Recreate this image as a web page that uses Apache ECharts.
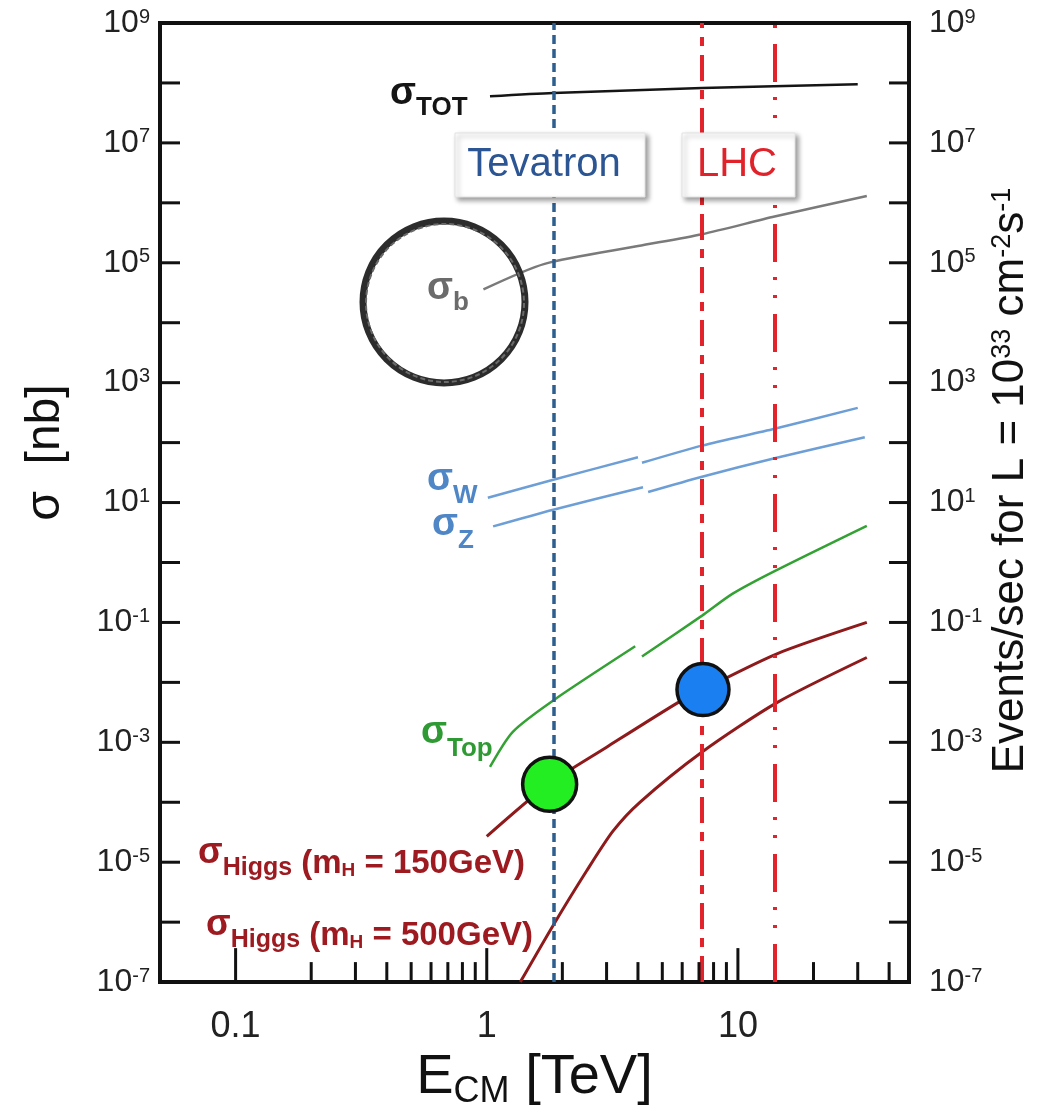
<!DOCTYPE html>
<html>
<head>
<meta charset="utf-8">
<title>Cross sections vs collider energy</title>
<script src="https://cdn.jsdelivr.net/npm/echarts@6/dist/echarts.min.js"></script>
<style>
  html, body { margin: 0; padding: 0; background: #ffffff; }
  #chart { width: 1047px; height: 1115px; }
</style>
</head>
<body>
<div id="chart"></div>
<script>
// ---- collider energies (TeV) ----
const tevatronE = 1.84;
const lhcE = 7.2;
const lhcDesignE = 14;

// ---- cross sections [nb] vs E_CM [TeV] ----
const sigmaTot = [[1.03, 6.0e7], [1.84, 6.8e7], [7.2, 8.2e7], [30, 9.5e7]];
const sigmaB = [[0.97, 3.6e4], [1.7, 9.6e4], [4.0, 1.9e5], [7.2, 3.0e5], [14, 5.9e5], [32.6, 1.3e6]];
const sigmaWppbar = [[1.01, 12], [1.84, 24], [4.0, 57]];
const sigmaWpp = [[4.15, 46], [7.2, 89], [14, 170], [30, 380]];
const sigmaZppbar = [[1.06, 4.0], [1.84, 7.6], [4.19, 18]];
const sigmaZpp = [[4.39, 15], [7.2, 27], [14, 55], [32, 123]];
const sigmaTopPpbar = [[1.03, 3.9e-4], [1.27, 1.5e-3], [1.84, 5.0e-3], [3.9, 0.04]];
const sigmaTopPp = [[4.15, 0.027], [7.2, 0.13], [9.5, 0.30], [14, 0.72], [32.6, 4.1]];
const sigmaHiggs150 = [[1.0, 2.7e-5], [1.76, 2.0e-4], [3.0, 8.3e-4], [5.77, 4.6e-3], [7.26, 7.6e-3], [14.3, 0.030], [32.6, 0.10]];
const sigmaHiggs500 = [[1.36, 1e-7], [1.84, 8.9e-7], [2.5, 7.2e-6], [3.18, 3.3e-5], [4.07, 1.0e-4], [7.2, 6.9e-4], [14.3, 4.6e-3], [32.6, 0.026]];
const tevatronHiggsPoint = [[1.78, 2.0e-4]];
const lhcHiggsPoint = [[7.26, 7.6e-3]];

// ---- axes ----
const xRange = [0.05, 48];
const yRange = [1e-7, 1e9];
const xTickLabels = ['0.1', '1', '10'];
const xMinorTicks = [0.2, 0.3, 0.4, 0.5, 0.6, 0.7, 0.8, 0.9, 2, 3, 4, 5, 6, 7, 8, 9, 20, 30, 40];
const yTickExponents = [-7, -6, -5, -4, -3, -2, -1, 0, 1, 2, 3, 4, 5, 6, 7, 8, 9];
const yLabelExponents = [9, 7, 5, 3, 1, -1, -3, -5, -7];

const FONT = "'Liberation Sans', Arial, Helvetica, sans-serif";

function isPow10(v) {
  const e = Math.log10(v);
  return Math.abs(e - Math.round(e)) < 1e-6;
}

const powRich = {
  m: { fontSize: 32, fontFamily: FONT, fill: '#222', verticalAlign: 'bottom' },
  e: { fontSize: 20, fontFamily: FONT, fill: '#222', verticalAlign: 'top' }
};

function powText(e) {
  return '{m|10}{e|' + (e < 0 ? '-' + Math.abs(e) : String(e)) + '}';
}

const lineSeries = (name, data, color, width) => ({
  name: name,
  type: 'line',
  data: data,
  showSymbol: false,
  symbol: 'none',
  smooth: 0.25,
  lineStyle: { color: color, width: width },
  silent: true,
  z: 3
});

// ticks along the bottom edge (log positions)
const xTickSeries = (values, kind) => ({
  type: 'custom',
  coordinateSystem: 'cartesian2d',
  silent: true,
  z: 5,
  data: values.map(v => [v, yRange[0]]),
  renderItem: (params, api) => {
    const p = api.coord([api.value(0), api.value(1)]);
    const len = kind === 'major' ? 34 : 20;
    return {
      type: 'line',
      shape: { x1: p[0], y1: p[1], x2: p[0], y2: p[1] - len },
      style: { stroke: '#111', lineWidth: 3 }
    };
  }
});

// decade ticks on both vertical edges, with labels every other decade
const yTickSeries = {
  type: 'custom',
  coordinateSystem: 'cartesian2d',
  silent: true,
  z: 5,
  data: yTickExponents.map(e => [xRange[0], Math.pow(10, e), e]),
  renderItem: (params, api) => {
    const val = api.value(1);
    const e = api.value(2);
    const pL = api.coord([xRange[0], val]);
    const pR = api.coord([xRange[1], val]);
    const children = [
      { type: 'line', shape: { x1: pL[0], y1: pL[1], x2: pL[0] + 20, y2: pL[1] }, style: { stroke: '#111', lineWidth: 3 } },
      { type: 'line', shape: { x1: pR[0], y1: pR[1], x2: pR[0] - 20, y2: pR[1] }, style: { stroke: '#111', lineWidth: 3 } }
    ];
    if (yLabelExponents.indexOf(e) >= 0) {
      children.push({
        type: 'text', x: pL[0] - 10, y: pL[1],
        style: { text: powText(e), rich: powRich, align: 'right', verticalAlign: 'middle' }
      });
      children.push({
        type: 'text', x: pR[0] + 20, y: pR[1],
        style: { text: powText(e), rich: powRich, align: 'left', verticalAlign: 'middle' }
      });
    }
    return { type: 'group', children: children };
  }
};

const chart = echarts.init(document.getElementById('chart'), null, { renderer: 'canvas' });

const option = {
  animation: false,
  backgroundColor: '#ffffff',
  grid: {
    left: 160, right: 138, top: 23, bottom: 122,
    show: true, borderColor: '#111', borderWidth: 4, backgroundColor: 'transparent',
    containLabel: false
  },
  xAxis: {
    type: 'log',
    logBase: 10,
    min: xRange[0],
    max: xRange[1],
    splitNumber: 3,
    axisLine: { show: false },
    axisTick: { show: false },
    splitLine: { show: false },
    minorTick: { show: false },
    axisLabel: {
      margin: 27,
      fontSize: 36,
      fontFamily: FONT,
      color: '#222',
      showMinLabel: true,
      showMaxLabel: true,
      formatter: v => {
        if (!isPow10(v)) return '';
        const s = String(+v.toPrecision(6));
        return xTickLabels.indexOf(s) >= 0 ? s : '';
      }
    },
    name: '{n|E}{s|CM}{n| [TeV]}',
    nameLocation: 'middle',
    nameGap: 66,
    nameTextStyle: {
      rich: {
        n: { fontSize: 56, fontFamily: FONT, color: '#111', verticalAlign: 'bottom', padding: [0, 0, 4, 0] },
        s: { fontSize: 36, fontFamily: FONT, color: '#111', verticalAlign: 'bottom' }
      }
    }
  },
  yAxis: [
    {
      type: 'log',
      logBase: 10,
      min: yRange[0],
      max: yRange[1],
      position: 'left',
      axisLine: { show: false },
      axisTick: { show: false },
      splitLine: { show: false },
      axisLabel: { show: false },
      name: 'σ  [nb]',
      nameLocation: 'middle',
      nameGap: 90,
      nameRotate: 90,
      nameTextStyle: { fontSize: 48, fontFamily: FONT, color: '#111', padding: [0, 0, 0, 100] }
    },
    {
      type: 'log',
      logBase: 10,
      min: yRange[0],
      max: yRange[1],
      position: 'right',
      axisLine: { show: false },
      axisTick: { show: false },
      splitLine: { show: false },
      axisLabel: { show: false },
      name: 'Events/sec for L = {n|10}{e|33}{n| cm}{e|-2}{n|s}{e|-1}',
      nameLocation: 'middle',
      nameGap: 124,
      nameRotate: 90,
      nameTextStyle: {
        fontSize: 44, fontFamily: FONT, color: '#111', verticalAlign: 'bottom',
        padding: [0, 0, 0, 44],
        rich: {
          n: { fontSize: 44, fontFamily: FONT, color: '#111', verticalAlign: 'bottom' },
          e: { fontSize: 27, fontFamily: FONT, color: '#111', verticalAlign: 'top' }
        }
      }
    }
  ],
  series: [
    Object.assign(lineSeries('σTOT', sigmaTot, '#151515', 2.5), {
      markLine: {
        silent: true,
        symbol: 'none',
        label: { show: false },
        animation: false,
        z: 4,
        data: [
          { xAxis: tevatronE, lineStyle: { color: '#2d5e8e', width: 3.5, type: [9, 5] } },
          { xAxis: lhcE, lineStyle: { color: '#e3232b', width: 4, type: [26, 9, 9, 9] } },
          { xAxis: lhcDesignE, lineStyle: { color: '#e3232b', width: 4, type: [38, 16, 3, 15, 3, 15] } }
        ]
      }
    }),
    lineSeries('σb', sigmaB, '#7a7a7a', 2.5),
    lineSeries('σW ppbar', sigmaWppbar, '#6d9fd6', 2.5),
    lineSeries('σW pp', sigmaWpp, '#6d9fd6', 2.5),
    lineSeries('σZ ppbar', sigmaZppbar, '#6d9fd6', 2.5),
    lineSeries('σZ pp', sigmaZpp, '#6d9fd6', 2.5),
    lineSeries('σTop ppbar', sigmaTopPpbar, '#33a133', 2.5),
    lineSeries('σTop pp', sigmaTopPp, '#33a133', 2.5),
    lineSeries('σHiggs 150', sigmaHiggs150, '#8e1a1c', 3),
    lineSeries('σHiggs 500', sigmaHiggs500, '#8e1a1c', 3),
    {
      name: 'Tevatron Higgs',
      type: 'scatter',
      data: tevatronHiggsPoint,
      symbolSize: 54,
      itemStyle: { color: '#22ee22', borderColor: '#111', borderWidth: 3.5, opacity: 1 },
      silent: true,
      z: 6
    },
    {
      name: 'LHC Higgs',
      type: 'scatter',
      data: lhcHiggsPoint,
      symbolSize: 52,
      itemStyle: { color: '#1a80f2', borderColor: '#111', borderWidth: 3.5, opacity: 1 },
      silent: true,
      z: 6
    },
    xTickSeries(xTickLabels.map(Number), 'major'),
    xTickSeries(xMinorTicks, 'minor'),
    yTickSeries
  ]
};

// annotation text (rich runs: sigma, subscript)
function sigmaLabel(x, y, sub, color, sigmaPad) {
  return {
    type: 'text',
    x: x, y: y,
    z: 50,
    silent: true,
    style: {
      text: '{g|σ}{s|' + sub + '}',
      rich: {
        g: { fontSize: 38, fontWeight: 'bold', fontFamily: FONT, fill: color, verticalAlign: 'bottom', padding: [0, 0, sigmaPad, 0] },
        s: { fontSize: 26, fontWeight: 'bold', fontFamily: FONT, fill: color, verticalAlign: 'bottom' }
      },
      align: 'left',
      verticalAlign: 'middle'
    }
  };
}

function higgsLabel(x, y, mass) {
  const c = '#9d1b20';
  return {
    type: 'text',
    x: x, y: y,
    z: 50,
    silent: true,
    style: {
      text: '{g|σ}{s|Higgs}{m| (m}{h|H}{m| = ' + mass + 'GeV)}',
      rich: {
        g: { fontSize: 36, fontWeight: 'bold', fontFamily: FONT, fill: c, verticalAlign: 'bottom', padding: [0, 0, 9, 0] },
        s: { fontSize: 25, fontWeight: 'bold', fontFamily: FONT, fill: c, verticalAlign: 'bottom' },
        m: { fontSize: 33, fontWeight: 'bold', fontFamily: FONT, fill: c, verticalAlign: 'bottom' },
        h: { fontSize: 19, fontWeight: 'bold', fontFamily: FONT, fill: c, verticalAlign: 'bottom' }
      },
      align: 'left',
      verticalAlign: 'middle'
    }
  };
}

function colliderBox(x, y, w, h, label, color, textX) {
  return {
    type: 'group',
    z: 40,
    silent: true,
    children: [
      {
        type: 'rect',
        shape: { x: x, y: y, width: w, height: h },
        style: {
          fill: '#ffffff',
          stroke: '#e2e2e2',
          lineWidth: 1,
          shadowBlur: 5,
          shadowColor: 'rgba(0,0,0,0.4)',
          shadowOffsetX: 3,
          shadowOffsetY: 3
        },
        z: 40
      },
      {
        type: 'text',
        x: textX, y: y + h / 2,
        style: {
          text: label,
          fontSize: 40,
          fontFamily: FONT,
          fill: color,
          align: 'center',
          verticalAlign: 'middle'
        },
        z: 41
      }
    ]
  };
}

option.graphic = [
  colliderBox(455, 133, 190, 64, 'Tevatron', '#2b5593', 544),
  colliderBox(682, 133, 113, 64, 'LHC', '#e0222a', 737),
  // ring drawn around the b-quark label
  {
    type: 'circle', z: 30, silent: true,
    shape: { cx: 444, cy: 302, r: 81 },
    style: { fill: 'none', stroke: '#2c2c2c', lineWidth: 7 }
  },
  {
    type: 'circle', z: 31, silent: true,
    shape: { cx: 445, cy: 303, r: 79 },
    style: { fill: 'none', stroke: '#6a6a6a', lineWidth: 2, lineDash: [5, 3] }
  },
  sigmaLabel(390, 98, 'TOT', '#151515', 8),
  sigmaLabel(427, 293, 'b', '#6b6b6b', 8),
  sigmaLabel(427, 485, 'W', '#4f86c6', 10),
  sigmaLabel(432, 530, 'Z', '#4f86c6', 10),
  sigmaLabel(421, 738, 'Top', '#2f9a33', 10),
  higgsLabel(198, 858, '150'),
  higgsLabel(206, 930, '500')
];

chart.setOption(option);
</script>
</body>
</html>
